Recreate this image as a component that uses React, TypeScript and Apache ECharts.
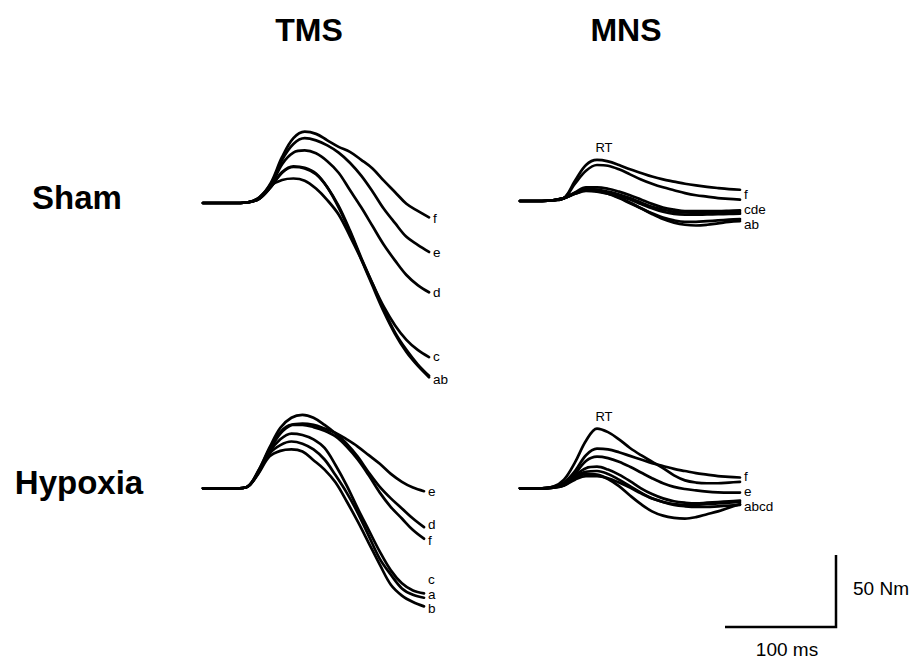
import React, { useEffect, useRef } from 'react';
import * as echarts from 'echarts';

// time axis of every trace, ms
const timeMs = [0, 20, 30, 40, 50, 60, 70, 80, 90, 100, 110, 120, 130, 140, 150, 160, 170, 180, 190, 200];

// TMS, Sham (force, Nm)
const tmsShamF = [0, 0, 0, 0.5, 4, 14, 32, 45, 49.5, 48, 43.5, 39, 35.5, 30, 24, 15.5, 7.5, -0.5, -5.5, -10];
const tmsShamE = [0, 0, 0, 0.5, 4, 13, 30, 41, 45, 43.5, 40, 35, 28, 19, 8, -4, -14, -23.5, -29, -34];
const tmsShamD = [0, 0, 0, 0.5, 3.5, 12, 27, 35, 36.5, 34.5, 29, 21, 9, -3, -16, -29, -40, -50, -57, -62];
const tmsShamC = [0, 0, 0, 0.5, 3, 12, 16, 17, 15.5, 10, 2, -8, -23, -39, -56, -72, -85, -95, -102, -107];
const tmsShamA = [0, 0, 0, 0.5, 3, 11, 21, 25, 24, 20, 11, -2, -19, -38, -56, -74, -90, -102, -112, -120];
const tmsShamB = [0, 0, 0, 0.5, 3, 11, 21.5, 25.5, 24.5, 20.5, 11, -3, -20, -39, -57.5, -75.5, -91, -103.5, -113, -121];

// TMS, Hypoxia
const tmsHypE = [0, 0, 0, 1, 11, 26, 38, 44, 45, 44, 41.5, 38.5, 34, 29, 23, 17, 10, 4.5, 0.5, -2];
const tmsHypD = [0, 0, 0, 1, 12, 28, 42, 49, 51, 49, 44, 38, 31, 22, 11, 1, -7, -14, -21, -27];
const tmsHypF = [0, 0, 0, 1, 12, 27, 39, 44, 44, 42.5, 40, 36, 29, 20, 9, -3, -13, -21, -29, -35];
const tmsHypC = [0, 0, 0, 1, 11, 25, 34, 38, 37, 34, 28, 16, 2, -14, -29, -44, -57, -66, -71, -73];
const tmsHypA = [0, 0, 0, 1, 10.5, 24, 30, 32.5, 31, 27, 20, 9, -3, -17, -33, -49, -60, -69.5, -74, -76];
const tmsHypB = [0, 0, 0, 1, 10, 22, 26, 27, 25.5, 19.5, 13, 4, -9, -23, -38, -53, -67, -74.5, -79, -82];

// MNS, Sham
const mnsShamRT = [0, 0, 0.5, 2, 14, 25, 28.5, 27.5, 25, 22, 19.5, 17, 15, 13.5, 12, 10.8, 9.8, 9, 8.3, 7.8];
const mnsShamF = [0, 0, 0.5, 2, 12, 21, 25, 24.5, 22, 18.5, 15, 12, 9.5, 7.5, 5.5, 4, 3, 2, 1.5, 1];
const mnsShamC = [0, 0, 0.5, 2, 6, 9.5, 9.5, 8.5, 6.5, 4, 1, -2, -4.5, -6, -7, -7, -7, -7, -6.8, -6.5];
const mnsShamD = [0, 0, 0.5, 2, 5.5, 8.5, 8, 6.5, 4.5, 2, -1, -4, -6, -7.5, -8, -8.2, -8.2, -8, -7.8, -7.7];
const mnsShamE = [0, 0, 0.5, 2, 5.5, 7.5, 7, 5.5, 3.5, 1, -2, -5, -7.5, -9, -9.5, -9.5, -9.3, -9.2, -9, -8.8];
const mnsShamA = [0, 0, 0.5, 2, 5, 7, 6.5, 5, 2.5, -1, -5, -9, -12.5, -15, -16.5, -17, -16.5, -15.5, -14.5, -14];
const mnsShamB = [0, 0, 0.5, 2, 5, 7.5, 7, 5, 2, -1.5, -5, -8.5, -11.5, -13.5, -14.5, -14.5, -14, -13.5, -13, -12.5];

// MNS, Hypoxia
const mnsHypRT = [0, 0, 1, 6, 18, 33, 41.5, 39, 34, 28, 23, 18.5, 14, 9, 5.5, 4, 3.5, 3.5, 4, 4.5];
const mnsHypF = [0, 0, 1, 4, 12, 23, 27.5, 27, 25, 22.5, 20, 17.5, 15.5, 13.5, 12, 10.5, 9.5, 8.5, 8, 7.5];
const mnsHypE = [0, 0, 1, 3, 10, 19, 22, 21, 18.5, 15, 11, 7, 3.5, 1, -0.5, -1.5, -2.3, -2.8, -3, -3];
const mnsHypA = [0, 0, 0.5, 3, 9, 14, 15, 13, 9.5, 5, 0, -4, -7, -9, -10, -10.5, -10, -9.5, -9, -8.5];
const mnsHypB = [0, 0, 0.5, 2.5, 8, 11.5, 12, 10, 6, 1.5, -3, -7, -9.5, -11, -11.5, -11.5, -11, -10.5, -10, -9.5];
const mnsHypC = [0, 0, 0.5, 2, 7, 10, 9.5, 6.5, 1.5, -5, -11, -16, -19, -20.5, -21, -20, -18, -16, -13.5, -11];
const mnsHypD = [0, 0, 0.5, 2, 6, 8.5, 8.5, 7, 4, 0.5, -3.5, -7, -9.5, -11.5, -12.5, -13, -13, -12.5, -12, -11.5];

// scale bar
const scaleBarTime = [0, 100, 100];
const scaleBarForce = [0, 0, 50];

const columnTitles = ['TMS', 'MNS'];
const rowTitles = ['Sham', 'Hypoxia'];

type Trace = { values: number[]; label?: string; dy?: number; rt?: boolean };
type Panel = { left: number; top: number; width: number; height: number; yMin: number; yMax: number; traces: Trace[] };

const panels: Panel[] = [
  {
    left: 203, top: 116.6, width: 226, height: 273.6, yMin: -130, yMax: 60,
    traces: [
      { values: tmsShamF, label: 'f', dy: 1 },
      { values: tmsShamE, label: 'e', dy: 1 },
      { values: tmsShamD, label: 'd' },
      { values: tmsShamC, label: 'c', dy: -1 },
      { values: tmsShamA },
      { values: tmsShamB, label: 'ab', dy: 2 },
    ],
  },
  {
    left: 203, top: 401.9, width: 221, height: 216, yMin: -90, yMax: 60,
    traces: [
      { values: tmsHypE, label: 'e' },
      { values: tmsHypD, label: 'd', dy: -2.5 },
      { values: tmsHypF, label: 'f', dy: 1.5 },
      { values: tmsHypC, label: 'c', dy: -14.4 },
      { values: tmsHypA, label: 'a', dy: -3.7 },
      { values: tmsHypB, label: 'b', dy: 2.6 },
    ],
  },
  {
    left: 520, top: 143.4, width: 220, height: 100.8, yMin: -30, yMax: 40,
    traces: [
      { values: mnsShamRT, rt: true },
      { values: mnsShamF, label: 'f', dy: -4.6 },
      { values: mnsShamC },
      { values: mnsShamD, label: 'cde', dy: -2.1 },
      { values: mnsShamE },
      { values: mnsShamA, label: 'ab', dy: 3.8 },
      { values: mnsShamB },
    ],
  },
  {
    left: 520, top: 416.3, width: 220, height: 115.2, yMin: -30, yMax: 50,
    traces: [
      { values: mnsHypRT, rt: true },
      { values: mnsHypF, label: 'f', dy: -1 },
      { values: mnsHypE, label: 'e', dy: -1.1 },
      { values: mnsHypA },
      { values: mnsHypB, label: 'abcd', dy: 4.5 },
      { values: mnsHypC },
      { values: mnsHypD },
    ],
  },
];

const FONT = 'Liberation Sans, Arial, Helvetica, sans-serif';

function buildOption() {
  const grid: any[] = [];
  const xAxis: any[] = [];
  const yAxis: any[] = [];
  const series: any[] = [];

  panels.forEach((p, i) => {
    grid.push({ left: p.left, top: p.top, width: p.width, height: p.height, containLabel: false });
    xAxis.push({ type: 'value', gridIndex: i, min: 0, max: 200, show: false });
    yAxis.push({ type: 'value', gridIndex: i, min: p.yMin, max: p.yMax, show: false });
    p.traces.forEach((tr) => {
      let peakIdx = 0;
      tr.values.forEach((v, k) => { if (v > tr.values[peakIdx]) peakIdx = k; });
      series.push({
        type: 'line',
        xAxisIndex: i,
        yAxisIndex: i,
        data: timeMs.map((t, k) => [t, tr.values[k]]),
        smooth: 0.35,
        showSymbol: false,
        symbol: 'none',
        clip: false,
        silent: true,
        lineStyle: { color: '#000', width: 2.7, cap: 'round', join: 'round' },
        endLabel: tr.label
          ? {
              show: true,
              formatter: tr.label,
              color: '#000',
              fontSize: 13.5,
              lineHeight: 14,
              fontFamily: FONT,
              distance: 4,
              offset: [0, tr.dy || 0],
            }
          : { show: false },
        markPoint: tr.rt
          ? {
              symbol: 'circle',
              symbolSize: 0,
              silent: true,
              data: [{ coord: [timeMs[peakIdx], tr.values[peakIdx]] }],
              label: {
                show: true,
                position: 'top',
                distance: 6,
                formatter: 'RT',
                color: '#000',
                fontSize: 13,
                fontFamily: FONT,
                offset: [7, 0],
              },
            }
          : undefined,
      });
    });
  });

  // scale bar grid
  const si = panels.length;
  grid.push({ left: 725, top: 555, width: 111, height: 72 });
  xAxis.push({ type: 'value', gridIndex: si, min: 0, max: 100, show: false });
  yAxis.push({ type: 'value', gridIndex: si, min: 0, max: 50, show: false });
  series.push({
    type: 'line',
    xAxisIndex: si,
    yAxisIndex: si,
    data: scaleBarTime.map((t, k) => [t, scaleBarForce[k]]),
    showSymbol: false,
    symbol: 'none',
    clip: false,
    silent: true,
    lineStyle: { color: '#000', width: 2.5, join: 'miter' },
  });

  const bold = (text: string, x: number, y: number, size: number) => ({
    type: 'text',
    x,
    y,
    silent: true,
    style: {
      text,
      fill: '#000',
      font: `bold ${size}px ${FONT}`,
      textAlign: 'center',
      textVerticalAlign: 'middle',
      align: 'center',
      verticalAlign: 'middle',
    },
  });

  const graphic: any[] = [
    bold(columnTitles[0], 309, 30, 32),
    bold(columnTitles[1], 626, 30, 32),
    bold(rowTitles[0], 77, 197, 33),
    bold(rowTitles[1], 79, 482, 33),
    {
      type: 'text', x: 853, y: 588, silent: true,
      style: { text: '50 Nm', fill: '#000', font: `19px ${FONT}`, textAlign: 'left', textVerticalAlign: 'middle', align: 'left', verticalAlign: 'middle' },
    },
    {
      type: 'text', x: 787, y: 649, silent: true,
      style: { text: '100 ms', fill: '#000', font: `19px ${FONT}`, textAlign: 'center', textVerticalAlign: 'middle', align: 'center', verticalAlign: 'middle' },
    },
  ];

  return {
    animation: false,
    backgroundColor: '#fff',
    grid,
    xAxis,
    yAxis,
    series,
    graphic,
  };
}

export default function App() {
  const ref = useRef<HTMLDivElement>(null);
  useEffect(() => {
    if (!ref.current) return;
    const chart = echarts.init(ref.current, undefined, { renderer: 'svg' });
    chart.setOption(buildOption() as any);
    return () => chart.dispose();
  }, []);
  return (
    <div
      ref={ref}
      style={{ position: 'fixed', left: 0, top: 0, width: 911, height: 658, background: '#fff' }}
    />
  );
}
